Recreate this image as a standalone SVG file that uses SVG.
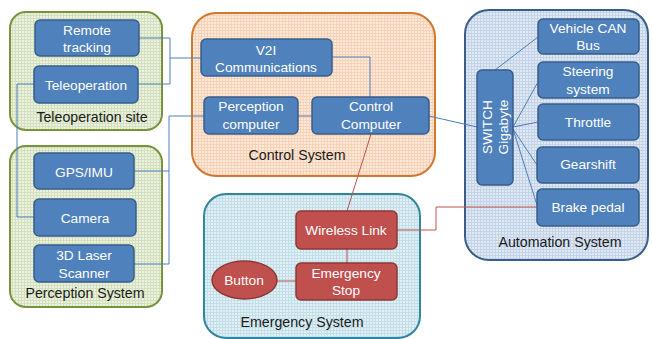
<svg xmlns="http://www.w3.org/2000/svg" width="652" height="339" viewBox="0 0 652 339">
<defs>
<pattern id="pg" width="3" height="3" patternUnits="userSpaceOnUse"><rect width="3" height="3" fill="#ecf2df"/><path d="M0 0.5H3M0.5 0V3" stroke="#d3e0bd" stroke-width="1"/></pattern>
<pattern id="po" width="3" height="3" patternUnits="userSpaceOnUse"><rect width="3" height="3" fill="#fde9d9"/><path d="M0 0.5H3M0.5 0V3" stroke="#f7d2b6" stroke-width="1"/></pattern>
<pattern id="pt" width="3" height="3" patternUnits="userSpaceOnUse"><rect width="3" height="3" fill="#e0f0f5"/><path d="M0 0.5H3M0.5 0V3" stroke="#c2dfe9" stroke-width="1"/></pattern>
<pattern id="pb" width="3" height="3" patternUnits="userSpaceOnUse"><rect width="3" height="3" fill="#dfe8f3"/><path d="M0 0.5H3M0.5 0V3" stroke="#c3d3e8" stroke-width="1"/></pattern>
</defs>
<style>
.t{font-family:"Liberation Sans",Arial,sans-serif;font-size:13.7px;text-anchor:middle}
.l{font-size:14.2px}
.w{fill:#ffffff}
.k{fill:#1a1a1a}
.bb{fill:#4f81bd;stroke:#385d8a;stroke-width:1.5}
.rb{fill:#c0504d;stroke:#8c3836;stroke-width:1.5}
.cb{fill:none;stroke:#4a7ebb;stroke-width:1}
.cr{fill:none;stroke:#c0504d;stroke-width:1}
</style>
<g id="teleoperation-site">
<rect x="10" y="12" width="152" height="118" rx="16" fill="url(#pg)" stroke="#77933c" stroke-width="2"/>
<text class="t l k" x="92" y="122">Teleoperation site</text>
</g>
<g id="perception-system">
<rect x="10" y="146" width="152" height="161" rx="16" fill="url(#pg)" stroke="#77933c" stroke-width="2"/>
<text class="t l k" x="85" y="298">Perception System</text>
</g>
<g id="control-system">
<rect x="192" y="13" width="243" height="163" rx="24" fill="url(#po)" stroke="#d0782e" stroke-width="2"/>
<text class="t l k" x="297" y="160">Control System</text>
</g>
<g id="emergency-system">
<rect x="204" y="194" width="216" height="144" rx="22" fill="url(#pt)" stroke="#31859c" stroke-width="2"/>
<text class="t l k" x="302" y="327">Emergency System</text>
</g>
<g id="automation-system">
<rect x="465" y="10" width="183" height="250" rx="24" fill="url(#pb)" stroke="#385d8a" stroke-width="2"/>
<text class="t l k" x="560" y="247">Automation System</text>
</g>
<g id="connectors">
<path class="cb" d="M139 38H170V84H138M170 58H201"/>
<path class="cb" d="M34 84H17V217H34"/>
<path class="cb" d="M134 171H169M134 264H169V116H204"/>
<path class="cb" d="M298 116H312"/>
<path class="cb" d="M332 57H370V97"/>
<path class="cb" d="M429 116L477 127"/>
<path class="cb" d="M495 70L538 37M513 127L538 82M513 127L538 122M513 129L537 165M513 129L537 205"/>
<path class="cr" d="M371 134L347 211"/>
<path class="cr" d="M397 230H436V207H537"/>
<path class="cr" d="M347 249V263"/>
<path class="cr" d="M277 281H296"/>
</g>
<g id="remote-tracking">
<rect class="bb" x="35" y="20" width="104" height="36" rx="5"/>
<text class="t w" x="87" y="35">Remote</text>
<text class="t w" x="87" y="52">tracking</text>
</g>
<g id="teleoperation">
<rect class="bb" x="34" y="66" width="104" height="37" rx="5"/>
<text class="t w" x="86" y="90">Teleoperation</text>
</g>
<g id="gps-imu">
<rect class="bb" x="34" y="153" width="100" height="36" rx="5"/>
<text class="t w" x="84" y="177">GPS/IMU</text>
</g>
<g id="camera">
<rect class="bb" x="34" y="199" width="102" height="37" rx="5"/>
<text class="t w" x="85" y="223">Camera</text>
</g>
<g id="laser-scanner">
<rect class="bb" x="34" y="245" width="100" height="37" rx="5"/>
<text class="t w" x="84" y="260">3D Laser</text>
<text class="t w" x="84" y="278">Scanner</text>
</g>
<g id="v2i">
<rect class="bb" x="201" y="39" width="131" height="37" rx="5"/>
<text class="t w" x="266" y="55">V2I</text>
<text class="t w" x="266" y="72">Communications</text>
</g>
<g id="perception-computer">
<rect class="bb" x="204" y="97" width="94" height="37" rx="5"/>
<text class="t w" x="251" y="111">Perception</text>
<text class="t w" x="251" y="129">computer</text>
</g>
<g id="control-computer">
<rect class="bb" x="312" y="97" width="117" height="37" rx="5"/>
<text class="t w" x="371" y="111">Control</text>
<text class="t w" x="371" y="129">Computer</text>
</g>
<g id="wireless-link">
<rect class="rb" x="296" y="211" width="101" height="38" rx="5"/>
<text class="t w" x="346" y="235">Wireless Link</text>
</g>
<g id="emergency-stop">
<rect class="rb" x="296" y="263" width="101" height="37" rx="5"/>
<text class="t w" x="346" y="278">Emergency</text>
<text class="t w" x="346" y="295">Stop</text>
</g>
<g id="button">
<ellipse class="rb" cx="244.5" cy="280" rx="32.5" ry="19"/>
<text class="t w" x="244" y="285">Button</text>
</g>
<g id="switch">
<rect class="bb" x="477" y="70" width="36" height="115" rx="5"/>
<text class="t w" transform="translate(492,127) rotate(-90)">SWITCH</text>
<text class="t w" transform="translate(508,127) rotate(-90)">Gigabyte</text>
</g>
<g id="vehicle-can-bus">
<rect class="bb" x="538" y="19" width="101" height="35" rx="5"/>
<text class="t w" x="588" y="33">Vehicle CAN</text>
<text class="t w" x="588" y="50">Bus</text>
</g>
<g id="steering">
<rect class="bb" x="538" y="62" width="101" height="36" rx="5"/>
<text class="t w" x="588" y="76">Steering</text>
<text class="t w" x="588" y="94">system</text>
</g>
<g id="throttle">
<rect class="bb" x="538" y="104" width="101" height="36" rx="5"/>
<text class="t w" x="588" y="127">Throttle</text>
</g>
<g id="gearshift">
<rect class="bb" x="537" y="147" width="102" height="36" rx="5"/>
<text class="t w" x="588" y="169">Gearshift</text>
</g>
<g id="brake-pedal">
<rect class="bb" x="537" y="189" width="102" height="37" rx="5"/>
<text class="t w" x="588" y="212">Brake pedal</text>
</g>
</svg>
